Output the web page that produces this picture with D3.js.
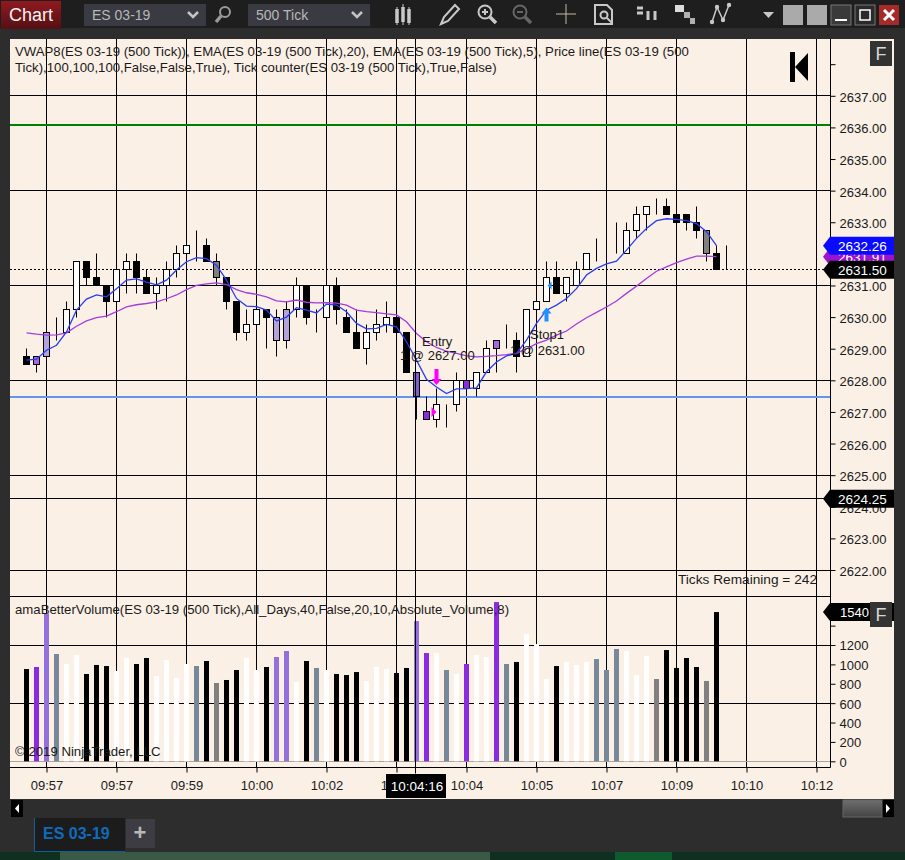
<!DOCTYPE html>
<html>
<head>
<meta charset="utf-8">
<title>ES 03-19</title>
<script src="https://cdn.jsdelivr.net/npm/d3@7"></script>
<style>
html, body { margin: 0; padding: 0; background: #2d2d2d; overflow: hidden; }
svg { display: block; }
text { font-family: "Liberation Sans", Arial, sans-serif; }
</style>
</head>
<body>
<svg id="chart" width="905" height="860"></svg>
<script>
// candles, one entry per bar
const opens = [2628.75,2628.5,2628.75,2629.5,2629.5,2630.25,2631.75,2631.25,2631,2630.5,2631.5,2631.75,2631.25,2630.75,2631,2631.5,2632,2632.25,2632.25,2631.75,2631.25,2630.5,2629.5,2629.75,2630.25,2630,2629.25,2630.25,2631,2630,2630,2631,2630,2629.5,2629,2629.5,2629.75,2630,2629.5,2628.25,2627,2626.75,2627.25,2627.25,2627.75,2627.75,2628.25,2629.25,2629.25,2629.25,2628.75,2630.25,2630.5,2631.25,2630.75,2631,2631.5,2632,2632,2632,2632,2632.75,2633.25,2633.5,2633.5,2633.25,2633.25,2633,2632.75,2632,2631.5];
const highs = [2629,2628.75,2629.5,2630,2630.5,2631.75,2631.75,2632,2631,2631.5,2632,2632,2631.5,2631.25,2631.75,2632.25,2632.25,2632.75,2632.5,2632,2631.25,2630.5,2630.25,2630.25,2630.25,2630.25,2630.5,2631.25,2631,2630.25,2631.25,2631.25,2630.25,2630.25,2629.75,2630.25,2630.5,2630,2629.5,2628.25,2627.5,2627.75,2627.25,2628.25,2628,2628.25,2629.25,2629.25,2629.75,2629.5,2630.25,2630.5,2631.75,2631.75,2631.25,2631.75,2632,2632.5,2632,2633,2633,2633.5,2633.5,2633.75,2633.75,2633.25,2633.25,2633.5,2632.75,2632.25,2632.25];
const lows = [2628.5,2628.25,2628.75,2629.25,2629.5,2630,2631,2631,2630,2630.5,2630.75,2630.75,2630.75,2630.25,2630.5,2631.25,2632,2631.75,2631.75,2631,2630.25,2629.25,2629.25,2629.75,2629,2628.75,2629,2630,2629.75,2629.5,2630,2629.75,2629.5,2629,2628.5,2629.25,2629.5,2629.5,2628.25,2626.75,2626.75,2626.5,2626.5,2627,2627.75,2627.5,2628.25,2628.25,2629,2628.25,2628.75,2630.25,2630.5,2630.75,2630.5,2631,2631.5,2631.75,2632,2632,2632,2632.5,2632.75,2633.25,2633.25,2633,2632.75,2632.5,2631.75,2631.5,2631.5];
const closes = [2628.5,2628.75,2629.5,2629.5,2630.25,2631.75,2631.25,2631,2630.5,2631.5,2631.75,2631.25,2630.75,2631,2631.5,2632,2632.25,2632.25,2631.75,2631.25,2630.5,2629.5,2629.75,2630.25,2630,2629.25,2630.25,2631,2630,2630,2631,2630.25,2629.5,2629,2629.5,2629.75,2630,2629.5,2628.25,2627.5,2626.75,2627.25,2627.25,2628,2628,2628.25,2629,2629,2629.25,2628.75,2630.25,2630.5,2631.25,2630.75,2631.25,2631.5,2632,2632,2632,2632,2632.75,2633.25,2633.5,2633.5,2633.25,2633,2633,2632.75,2632,2631.5,2631.5];
const barKinds = ["black","violet","lilac","white","white","white","black","black","black","white","white","black","black","white","white","white","white","white","black","gray","black","black","white","white","black","lilac","lilac","white","black","white","white","black","black","black","white","white","white","black","black","slate","purple","white","white","white","purple","white","white","violet","white","black","white","white","white","black","white","white","white","white","white","white","white","white","white","white","black","black","black","black","gray","black","white"];

// EMA(5) and EMA(20)
const emaFast = [2628.64,2628.67,2628.95,2629.11,2629.53,2630.22,2630.57,2630.7,2630.64,2630.9,2631.17,2631.21,2631.11,2631.02,2631.17,2631.49,2631.75,2631.88,2631.85,2631.64,2631.17,2630.59,2630.35,2630.33,2630.22,2629.88,2630,2630.3,2630.22,2630.13,2630.41,2630.38,2630.17,2629.8,2629.63,2629.64,2629.77,2629.69,2629.22,2628.64,2628.03,2627.79,2627.58,2627.73,2627.74,2627.76,2628.27,2628.58,2628.77,2628.85,2629.27,2629.8,2630.22,2630.38,2630.59,2630.9,2631.33,2631.54,2631.68,2631.77,2632.12,2632.49,2632.8,2633.05,2633.11,2633.09,2633.05,2632.96,2632.7,2632.26];
const emaSlow = [2629.5,2629.46,2629.43,2629.44,2629.5,2629.71,2629.88,2629.98,2630.03,2630.17,2630.32,2630.39,2630.43,2630.48,2630.58,2630.7,2630.87,2631,2631.05,2631.08,2631.03,2630.87,2630.77,2630.72,2630.64,2630.51,2630.48,2630.54,2630.47,2630.45,2630.46,2630.44,2630.38,2630.22,2630.17,2630.14,2630.1,2630.07,2629.85,2629.48,2629.22,2629.04,2628.92,2628.85,2628.77,2628.74,2628.76,2628.78,2628.81,2628.85,2629,2629.16,2629.27,2629.43,2629.56,2629.78,2629.98,2630.15,2630.32,2630.51,2630.75,2630.98,2631.22,2631.45,2631.59,2631.72,2631.83,2631.93,2631.93,2631.91];

// volume panel
const volumes = [952,973,1526,1107,1004,1097,901,994,983,932,1066,1004,1066,880,1045,860,1004,983,1035,808,839,942,1066,942,973,1076,1138,818,1035,963,942,901,890,921,829,973,952,911,963,1447,1117,1117,942,901,1004,1097,1076,1643,1004,1025,1313,1210,849,983,1025,994,1025,1055,942,1159,1138,890,1086,849,1148,963,1066,973,829,1540];
const volumeKinds = ["black","purple","medium","slate","white","white","black","black","black","white","white","black","black","white","white","white","white","slate","black","gray","black","black","white","white","black","medium","medium","white","black","slate","white","black","black","black","white","white","white","black","black","medium","purple","white","slate","white","purple","white","white","purple","slate","black","white","white","white","black","white","white","white","slate","slate","slate","white","white","white","gray","black","black","black","black","gray","black"];

// axes
const timeTickBars = [2,9,16,23,30,37,44,51,58,65,72,79];
const timeLabels = ["09:57","09:57","09:59","10:00","10:02","10:03","10:04","10:05","10:07","10:09","10:10","10:12"];
const priceTicks = [2638,2637,2636,2635,2634,2633,2632,2631,2630,2629,2628,2627,2626,2625,2624,2623,2622];
const hiddenPriceLabels = [2638,2632];
const priceGrid = [2637,2634,2631,2628,2625,2622];
const volumeTicks = [1400,1200,1000,800,600,400,200,0];
const volumeGrid = [1200,600];

const greenLevel = 2636.08, blueLevel = 2627.47, stopLevel = 2624.25, lastPrice = 2631.5;
const crossBar = 38.9;

const priceFlags = [
  { value: 2631.91, label: "2631.91", fill: "#9b12cf" },
  { value: 2632.26, label: "2632.26", fill: "#0a0aff" },
  { value: 2631.5, label: "2631.50", fill: "#000" },
  { value: 2624.25, label: "2624.25", fill: "#000" }
];

const kindColor = d3.scaleOrdinal()
  .domain(["black","white","gray","slate","purple","violet","lilac","medium"])
  .range(["#000","#fff","#808080","#778899","#8a2be2","#a767dd","#b3a3dc","#9370db"]);
const bodyColor = d3.scaleOrdinal()
  .domain(["black","white","gray","slate","purple","violet","lilac"])
  .range(["#000","#fff","#808080","#7a62c4","#8a2be2","#a767dd","#b3a3dc"]);

const svg = d3.select("#chart");
const crisp = v => Math.round(v - 0.5) + 0.5;

const x = d3.scaleLinear().domain([0, 80]).range([26.5, 826.5]);
const y = d3.scaleLinear().domain([2637, 2622]).range([95.8, 570]);
const yVol = d3.scaleLinear().domain([0, 1200]).range([761.3, 645]);

const panelLeft = 10, panelRight = 830.5, panelTop = 39, panelLine = 596.5, panelBottom = 767.5;

// window chrome
const defs = svg.append("defs");
const chartRed = defs.append("linearGradient").attr("id", "chartRed").attr("x1", 0).attr("x2", 0).attr("y1", 0).attr("y2", 1);
chartRed.append("stop").attr("offset", 0).attr("stop-color", "#8f1a20");
chartRed.append("stop").attr("offset", 1).attr("stop-color", "#541014");
const thumbGray = defs.append("linearGradient").attr("id", "thumbGray").attr("x1", 0).attr("x2", 0).attr("y1", 0).attr("y2", 1);
thumbGray.append("stop").attr("offset", 0).attr("stop-color", "#6e6e6e");
thumbGray.append("stop").attr("offset", 1).attr("stop-color", "#444");

svg.append("rect").attr("width", 905).attr("height", 860).attr("fill", "#2d2d2d");
svg.append("rect").attr("width", 905).attr("height", 28).attr("fill", "#1e1e1e");
svg.append("rect").attr("x", 10).attr("y", 39).attr("width", 884).attr("height", 760).attr("fill", "#faf0e6");

// grid
const hLine = (g, yy) => g.append("line").attr("x1", panelLeft).attr("x2", panelRight).attr("y1", yy).attr("y2", yy);
const grid = svg.append("g").attr("stroke", "#000").attr("stroke-width", 1);
grid.selectAll(".v").data(timeTickBars).join("line").attr("class", "v")
  .attr("x1", d => x(d)).attr("x2", d => x(d)).attr("y1", panelTop).attr("y2", panelBottom);
priceGrid.forEach(d => hLine(grid, crisp(y(d))));
volumeGrid.forEach(d => hLine(grid, crisp(yVol(d))));
hLine(grid, panelLine);
hLine(grid, panelBottom);
hLine(grid, crisp(yVol(0))).attr("stroke", "#a9a59f");

// levels
hLine(svg, y(greenLevel)).attr("stroke", "#008000").attr("stroke-width", 2);
hLine(svg, y(blueLevel)).attr("stroke", "#6495ed").attr("stroke-width", 2);
hLine(svg, crisp(y(stopLevel))).attr("stroke", "#000");
hLine(svg, crisp(y(lastPrice))).attr("stroke", "#000").attr("stroke-dasharray", "2 2");

// volume bars
svg.append("g").selectAll("rect").data(volumes).join("rect")
  .attr("x", (d, i) => x(i) - 2.5)
  .attr("width", 5)
  .attr("y", d => yVol(d))
  .attr("height", d => yVol(0) - yVol(d))
  .attr("fill", (d, i) => kindColor(volumeKinds[i]));

// panel text
const note = (tx, ty, s, size, anchor) => svg.append("text").attr("x", tx).attr("y", ty)
  .attr("font-size", size || 13.2).attr("fill", "#1a1a1a").attr("text-anchor", anchor || "start").text(s);
note(15, 56, "VWAP8(ES 03-19 (500 Tick)), EMA(ES 03-19 (500 Tick),20), EMA(ES 03-19 (500 Tick),5), Price line(ES 03-19 (500");
note(15, 72, "Tick),100,100,100,False,False,True), Tick counter(ES 03-19 (500 Tick),True,False)");
note(15, 614, "amaBetterVolume(ES 03-19 (500 Tick),All_Days,40,False,20,10,Absolute_Volume,8)");
note(15, 756, "\u00a9 2019 NinjaTrader, LLC");

// candles
const candles = svg.append("g");
candles.selectAll("line").data(opens).join("line")
  .attr("x1", (d, i) => x(i)).attr("x2", (d, i) => x(i))
  .attr("y1", (d, i) => crisp(y(highs[i])))
  .attr("y2", (d, i) => crisp(y(lows[i])))
  .attr("stroke", "#000");
candles.selectAll("rect").data(opens).join("rect")
  .attr("x", (d, i) => x(i) - 3)
  .attr("width", 6)
  .attr("y", (d, i) => crisp(y(Math.max(d, closes[i]))))
  .attr("height", (d, i) => crisp(y(Math.min(d, closes[i]))) - crisp(y(Math.max(d, closes[i]))))
  .attr("fill", (d, i) => bodyColor(barKinds[i]))
  .attr("stroke", "#000");

// moving averages
const line = d3.line().x((d, i) => x(i)).y(d => y(d));
svg.append("path").datum(emaSlow).attr("d", line).attr("fill", "none").attr("stroke", "#a53cdc").attr("stroke-width", 1.3);
svg.append("path").datum(emaFast).attr("d", line).attr("fill", "none").attr("stroke", "#2a3df0").attr("stroke-width", 1.3);

// trade markers
const arrowDown = (px, py, c) => svg.append("path").attr("fill", c)
  .attr("d", `M${px - 2},${py - 16}h4v10h3l-5,6l-5,-6h3z`);
const arrowUp = (px, py, c) => svg.append("path").attr("fill", c)
  .attr("d", `M${px - 2},${py + 14}h4v-8h3l-5,-6l-5,6h3z`);
arrowDown(x(41), y(2627.85), "#ff00ff");
arrowUp(x(52), y(2630.3), "#1e90ff");
svg.append("path").attr("fill", "#ff00ff").attr("d", `M${x(41) - 5},${y(2627) - 5}l5,5l-5,5z`);
svg.append("path").attr("fill", "#1e90ff").attr("d", `M${x(52) + 5},${y(2631) - 4}l-4,4l4,4z`);
note(422, 346, "Entry", 13);
note(400, 360, "1 @ 2627.00", 13);
note(530, 339, "Stop1", 13);
note(510, 355, "1 @ 2631.00", 13);
note(817, 584, "Ticks Remaining = 242", 13.7, "end");

// price and volume axes
const priceAxis = d3.axisRight(y).tickValues(priceTicks).tickSize(5).tickPadding(4)
  .tickFormat(d => hiddenPriceLabels.includes(d) ? "" : d3.format(".2f")(d));
const volAxis = d3.axisRight(yVol).tickValues(volumeTicks).tickSize(5).tickPadding(4)
  .tickFormat(d => d === 1400 ? "" : d);
const styleAxis = g => {
  g.select(".domain").remove();
  g.selectAll("line").attr("stroke", "#000");
  g.selectAll("text").attr("font-size", 13).attr("fill", "#1a1a1a").attr("font-family", '"Liberation Sans", Arial, sans-serif');
};
svg.append("g").attr("transform", `translate(${panelRight},0)`).call(priceAxis).call(styleAxis)
  .selectAll("text").attr("dy", "0.42em");
svg.append("g").attr("transform", `translate(${panelRight},0)`).call(volAxis).call(styleAxis)
  .selectAll("text").attr("dy", "0.38em");
svg.append("line").attr("x1", panelRight).attr("x2", panelRight).attr("y1", panelTop).attr("y2", panelBottom).attr("stroke", "#000");

// time axis
const timeAxis = d3.axisBottom(x).tickValues(timeTickBars).tickSize(5).tickPadding(8)
  .tickFormat((d, i) => timeLabels[i]);
svg.append("g").attr("transform", `translate(0,${panelBottom})`).call(timeAxis).call(styleAxis);

// crosshair
svg.append("line").attr("x1", x(crossBar)).attr("x2", x(crossBar)).attr("y1", panelTop).attr("y2", panelBottom + 6).attr("stroke", "#000");
svg.append("rect").attr("x", 386).attr("y", 774).attr("width", 60).attr("height", 24).attr("fill", "#000");
svg.append("text").attr("x", 417).attr("y", 791).attr("text-anchor", "middle").attr("font-size", 13.5).attr("fill", "#fff").text("10:04:16");

// price flags
const flag = (fy, w, h) => `M823,${fy}l7,${-h / 2}h${w}v${h}h${-w}z`;
svg.selectAll(".flag").data(priceFlags).join("g").attr("class", "flag").each(function (d) {
  const g = d3.select(this), fy = y(d.value);
  g.append("path").attr("d", flag(fy, 64, 18)).attr("fill", d.fill);
  g.append("text").attr("x", 838).attr("y", fy + 5).attr("font-size", 13.5).attr("fill", "#fff").text(d.label);
});
const vy = yVol(1540);
svg.append("path").attr("d", flag(vy, 64, 18)).attr("fill", "#000");
svg.append("text").attr("x", 840).attr("y", vy + 5).attr("font-size", 13).attr("fill", "#fff").text("1540");

// F buttons
[41, 602].forEach(fy => {
  svg.append("rect").attr("x", 870).attr("y", fy).attr("width", 22).attr("height", 25).attr("fill", "#333");
  svg.append("text").attr("x", 881).attr("y", fy + 19).attr("text-anchor", "middle").attr("font-size", 18).attr("fill", "#d8d8d8").text("F");
});

// jump-to-end marker
svg.append("rect").attr("x", 790).attr("y", 52).attr("width", 5).attr("height", 30).attr("fill", "#000");
svg.append("path").attr("d", "M795,67L808,53V81z").attr("fill", "#000");

// toolbar
const tb = svg.append("g");
tb.append("rect").attr("x", 1).attr("y", 1).attr("width", 60).attr("height", 28).attr("fill", "url(#chartRed)");
tb.append("text").attr("x", 31).attr("y", 21).attr("text-anchor", "middle").attr("font-size", 18).attr("fill", "#f2f2f2").text("Chart");
[[84, "ES 03-19"], [248, "500 Tick"]].forEach(([bx, s]) => {
  tb.append("rect").attr("x", bx).attr("y", 4).attr("width", 122).attr("height", 22).attr("fill", "#3a3b42");
  tb.append("text").attr("x", bx + 8).attr("y", 20).attr("font-size", 14).attr("fill", "#b8b8b8").text(s);
  tb.append("path").attr("d", `M${bx + 104},12l5,5l5,-5`).attr("fill", "none").attr("stroke", "#c4c4c4").attr("stroke-width", 2.5);
});
const iconStroke = "#c8c8c8";
const ring = (cx, cy, r, c) => tb.append("circle").attr("cx", cx).attr("cy", cy).attr("r", r).attr("fill", "none").attr("stroke", c).attr("stroke-width", 2);
const seg = (d, c, w) => tb.append("path").attr("d", d).attr("fill", "none").attr("stroke", c).attr("stroke-width", w || 2);
const dot = (cx, cy) => tb.append("circle").attr("cx", cx).attr("cy", cy).attr("r", 2.2).attr("fill", iconStroke);
ring(225, 12, 5, "#9a9a9a"); seg("M221,16l-5,6", "#9a9a9a", 3.5);
seg("M397,9v14M403,7v15M409,9v14", "#c8c8c8", 3.5);
seg("M397,7v18M403,4v21M409,7v18", "#c8c8c8", 1);
seg("M441,24l3,-7l11,-12l4,4l-11,12z", iconStroke, 2);
ring(485, 12, 6.5, iconStroke); seg("M482,12h6M485,9v6", iconStroke); seg("M490,17l6,6", iconStroke, 3.5);
ring(520, 12, 6.5, "#666"); seg("M517,12h6", "#666"); seg("M525,17l6,6", "#666", 3.5);
seg("M556,14h20M566,4v20", "#c8b8a0", 1);
seg("M595,5h12l5,5v14h-17z", iconStroke, 2); ring(604, 15, 3.5, iconStroke); seg("M607,18l5,5", iconStroke, 2);
seg("M637,8h6M637,13h6M648,11v9M655,11v9", iconStroke, 3);
tb.append("rect").attr("x", 675).attr("y", 5).attr("width", 9).attr("height", 7).attr("fill", "#dcdcdc");
tb.append("rect").attr("x", 684).attr("y", 12).attr("width", 6).attr("height", 6).attr("fill", "#b0b0b0");
tb.append("rect").attr("x", 690).attr("y", 18).attr("width", 5).attr("height", 6).attr("fill", "#b0b0b0");
seg("M712,22l5,-15l6,13l6,-15", iconStroke, 1.5);
[[712, 22], [717, 7], [723, 20], [729, 5]].forEach(([cx, cy]) => dot(cx, cy));
tb.append("path").attr("d", "M763,12h11l-5.5,6z").attr("fill", "#c8c8c8");
[783, 807].forEach(bx => tb.append("rect").attr("x", bx).attr("y", 5).attr("width", 20).attr("height", 20).attr("fill", "#aaa"));
tb.append("rect").attr("x", 831).attr("y", 5).attr("width", 20).attr("height", 20).attr("fill", "#3a3a3a").attr("stroke", "#777");
seg("M835,20h12", "#fff", 2);
tb.append("rect").attr("x", 855).attr("y", 5).attr("width", 20).attr("height", 20).attr("fill", "#2a2a2a").attr("stroke", "#777");
tb.append("rect").attr("x", 860).attr("y", 10).attr("width", 10).attr("height", 10).attr("fill", "none").attr("stroke", "#fff").attr("stroke-width", 1.5);
tb.append("rect").attr("x", 879).attr("y", 5).attr("width", 20).attr("height", 20).attr("fill", "#a52a2a");
seg("M884,10l10,10M894,10l-10,10", "#fff", 3);

// scrollbar, tab strip and bottom band
svg.append("rect").attr("x", 11).attr("y", 800).attr("width", 12).attr("height", 17).attr("fill", "#000");
svg.append("path").attr("d", "M19,804v9l-4,-4.5z").attr("fill", "#fff");
svg.append("rect").attr("x", 882).attr("y", 800).attr("width", 12).attr("height", 17).attr("fill", "#000");
svg.append("path").attr("d", "M886,804v9l4,-4.5z").attr("fill", "#fff");
svg.append("rect").attr("x", 843).attr("y", 800).attr("width", 39).attr("height", 17).attr("fill", "url(#thumbGray)").attr("stroke", "#666");
svg.append("rect").attr("x", 34).attr("y", 818).attr("width", 91).attr("height", 33).attr("fill", "#1c1c1c");
svg.append("path").attr("d", "M34.5,818V851.5H125").attr("fill", "none").attr("stroke", "#0f5f9f");
svg.append("text").attr("x", 43).attr("y", 839).attr("font-size", 16).attr("font-weight", "bold").attr("fill", "#0f6cbd").text("ES 03-19");
svg.append("rect").attr("x", 126).attr("y", 819).attr("width", 29).attr("height", 29).attr("fill", "#3c3c42");
svg.append("text").attr("x", 140).attr("y", 840).attr("text-anchor", "middle").attr("font-size", 22).attr("font-weight", "bold").attr("fill", "#b8b8b8").text("+");
[[0, 905, "#0f2f20"], [60, 430, "#3a5a47"], [615, 57, "#0f5a2e"]].forEach(([bx, w, c]) =>
  svg.append("rect").attr("x", bx).attr("y", 852).attr("width", w).attr("height", 8).attr("fill", c));
</script>
</body>
</html>
